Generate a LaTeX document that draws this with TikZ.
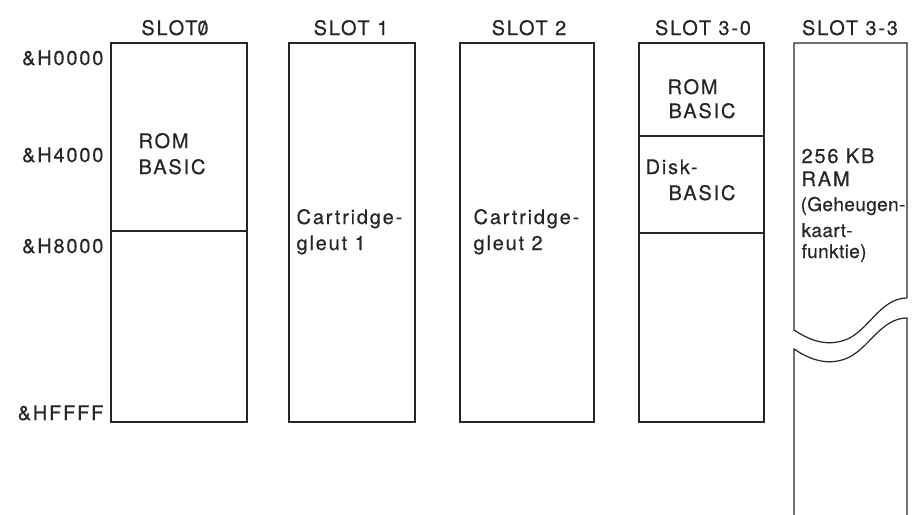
\documentclass[tikz,border=0pt]{standalone}
\usepackage{fontspec}
\setmainfont{TeX Gyre Heros}[LetterSpace=9,FakeBold=0.4]
\newcommand{\slz}{\ooalign{0\cr\hidewidth/\hidewidth\cr}}
\definecolor{ink}{HTML}{262626}
\begin{document}
\begin{tikzpicture}[x=1pt,y=-1pt,line width=1.2pt,
  membox/.style={draw=ink,line join=miter},
  head/.style={font=\fontsize{20}{22}\selectfont,text=ink,inner sep=0pt,anchor=base},
  addr/.style={font=\fontsize{20}{22}\selectfont,text=ink,inner sep=0pt,anchor=base east},
  txt/.style={font=\fontsize{20}{22}\selectfont,text=ink,inner sep=0pt,anchor=base west},
  smalltxt/.style={font=\fontsize{19}{21}\selectfont\addfontfeature{LetterSpace=2},text=ink,inner sep=0pt,anchor=base west}]
\useasboundingbox (0,0) rectangle (915,514);
\fill[white] (0,0) rectangle (915,514);
\begin{scope}
\clip (0,0) rectangle (915,514);
% slot 0
\draw[membox] (111,43) rectangle (247,422);
\draw[membox] (111,231) -- (247,231);
% slot 1
\draw[membox] (289,43) rectangle (415,422);
% slot 2
\draw[membox] (460,43) rectangle (594,422);
% slot 3-0
\draw[membox] (639,43) rectangle (764,422);
\draw[membox] (639,136) -- (764,136);
\draw[membox] (639,233) -- (764,233);
% slot 3-3 (broken)
\draw[membox] (907,298) -- (907,43) -- (794,43) -- (794,330)
  .. controls (812,342) and (828,346) .. (845,340)
  .. controls (868,332) and (880,298) .. (907,298);
\draw[membox] (794,540) -- (794,349)
  .. controls (812,361) and (828,365) .. (845,359)
  .. controls (868,351) and (880,318) .. (907,318) -- (907,540);
\end{scope}
% headings
\node[head] (h0) at (175,35) {SLOT\slz};
\node[head] (h1) at (351,35) {SLOT 1};
\node[head] (h2) at (529,35) {SLOT 2};
\node[head] (h30) at (703,35) {SLOT 3-0};
\node[head] (h33) at (850,35) {SLOT 3-3};
% addresses
\node[addr] (a0) at (104,65) {\&H0000};
\node[addr] (a4) at (104,162) {\&H4000};
\node[addr] (a8) at (104,253) {\&H8000};
\node[addr] (af) at (104,420) {\&HFFFF};
% slot 0 text
\node[txt] (rom0) at (138,148) {ROM};
\node[txt] (bas0) at (138,174) {BASIC};
% slot 1/2 text
\node[txt] (c1a) at (296,224) {Cartridge-};
\node[txt] (c1b) at (296,250) {gleut 1};
\node[txt] (c2a) at (473,224) {Cartridge-};
\node[txt] (c2b) at (473,250) {gleut 2};
% slot 3-0 text
\node[txt] (rom3) at (667,94) {ROM};
\node[txt] (bas3) at (668,118) {BASIC};
\node[txt] (disk) at (645,174) {Disk-};
\node[txt] (dbas) at (668,200) {BASIC};
% slot 3-3 text
\node[txt] (ram1) at (801,163) {256 KB};
\node[txt] (ram2) at (801,186) {RAM};
\node[smalltxt,fill=white,inner ysep=1pt] (gh1) at (800,211) {(Geheugen-};
\node[smalltxt] (gh2) at (801,237) {kaart-};
\node[smalltxt] (gh3) at (801,258) {funktie)};
\end{tikzpicture}
\end{document}
